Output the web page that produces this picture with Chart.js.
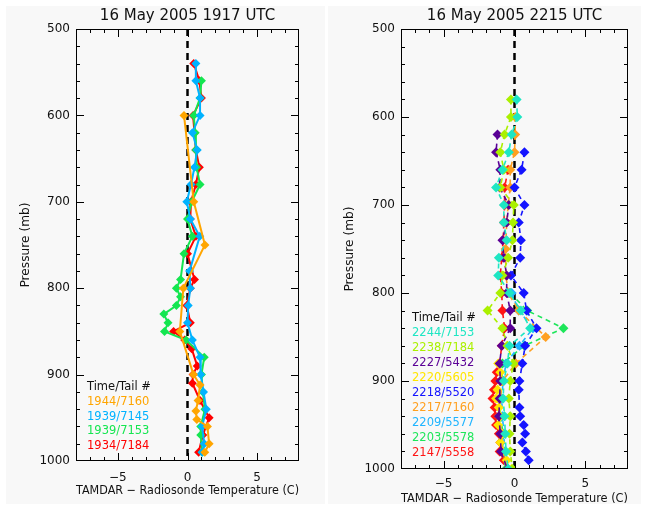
<!DOCTYPE html>
<html><head><meta charset="utf-8">
<script src="https://cdn.jsdelivr.net/npm/chart.js@4.4.0/dist/chart.umd.min.js"></script>
<style>
html,body{margin:0;padding:0;background:#fff;}
body{width:645px;height:508px;position:relative;overflow:hidden;}
.panel{position:absolute;background:#f8f8f8;}
#pl{left:6px;top:6px;width:319px;height:498px;}
#pr{left:328px;top:6px;width:313px;height:498px;}
#wl{position:absolute;left:0;top:0;width:325px;height:508px;}
#wr{position:absolute;left:325px;top:0;width:320px;height:508px;}
</style></head><body>
<div class="panel" id="pl"></div><div class="panel" id="pr"></div>
<div id="wl"><canvas id="cl" width="325" height="508"></canvas></div>
<div id="wr"><canvas id="cr" width="320" height="508"></canvas></div>
<script>
// ---------- axes ----------
const P_AXIS_MIN = 500, P_AXIS_MAX = 1000;
const T_AXIS_MIN = -8, T_AXIS_MAX = 8;
const X_TICKS = [-5, 0, 5];
const Y_TICKS = [500, 600, 700, 800, 900, 1000];
const X_MINOR_STEP = 1;
const Y_MINOR_STEP = 20;
const ZERO_P = [500, 1000];
const ZERO_T = [0, 0];

const LEFT_TITLE = '16 May 2005 1917 UTC';
const RIGHT_TITLE = '16 May 2005 2215 UTC';
const X_TITLE = 'TAMDAR \u2212 Radiosonde Temperature (C)';
const Y_TITLE = 'Pressure (mb)';
const LEGEND_HEADER = 'Time/Tail #';

// ---------- left panel (1917 UTC) ----------
const LEFT_LABELS = ['1944/7160', '1939/7145', '1939/7153', '1934/7184'];
const L1944_7160_P = [600, 700, 750, 800, 850, 900, 912, 930, 942, 952, 960, 980, 990];
const L1944_7160_T = [-0.25, 0.45, 1.25, -0.3, -0.55, 0.43, 0.9, 0.76, 0.6, 0.67, 1.43, 1.55, 1.24];
const L1939_7145_P = [540, 560, 580, 600, 620, 640, 660, 680, 700, 720, 740, 780, 800, 820, 840, 860, 880, 900, 920, 940, 960, 980, 990];
const L1939_7145_T = [0.6, 0.6, 0.9, 0.9, 0.35, 0.7, 0.5, 0.25, -0.05, 0.2, 0.88, 0.15, 0.2, 0.05, 0.0, 0.35, 0.9, 0.95, 1.15, 1.35, 1.05, 1.2, 1.05];
const L1939_7153_P = [560, 580, 600, 620, 640, 660, 680, 700, 720, 740, 760, 790, 800, 810, 820, 830, 840, 850, 860, 880, 900, 920, 940, 960, 970, 990];
const L1939_7153_T = [1.0, 0.9, 0.45, 0.55, 0.6, 0.65, 0.9, 0.3, 0.0, 0.35, -0.25, -0.5, -0.8, -0.5, -0.8, -1.7, -1.4, -1.65, -0.1, 1.2, 1.0, 1.1, 1.25, 0.95, 0.95, 1.05];
const L1934_7184_P = [540, 560, 580, 600, 620, 640, 660, 680, 700, 720, 740, 760, 790, 800, 820, 840, 850, 860, 870, 890, 900, 910, 930, 950, 970, 990];
const L1934_7184_T = [0.45, 0.85, 1.0, 0.4, 0.5, 0.6, 0.85, 0.6, 0.25, 0.2, 0.6, 0.0, 0.5, 0.2, -0.05, 0.2, -1.0, -0.2, 0.3, 0.7, 0.4, 0.35, 0.9, 1.55, 1.1, 0.8];
const LEFT_P = [L1944_7160_P, L1939_7145_P, L1939_7153_P, L1934_7184_P];
const LEFT_T = [L1944_7160_T, L1939_7145_T, L1939_7153_T, L1934_7184_T];
const LEFT_COLORS = ['#ffa500', '#00b2ff', '#14e650', '#ff0000'];

// ---------- right panel (2215 UTC) ----------
const RIGHT_LABELS = ['2244/7153', '2238/7184', '2227/5432', '2220/5605', '2218/5520', '2217/7160', '2209/5577', '2203/5578', '2147/5558'];
const R2244_7153_P = [580, 600, 620, 640, 660, 680, 700, 720, 740, 760, 780, 800, 820, 840, 860, 880, 900, 920, 940, 960, 980, 1000];
const R2244_7153_T = [0.15, 0.2, -0.2, -0.4, -0.85, -1.3, -0.75, -0.75, -0.55, -1.1, -1.15, -0.35, 0.45, 1.1, -0.35, -0.5, -0.75, -0.8, -0.7, -0.65, -0.6, -0.45];
const R2238_7184_P = [580, 600, 620, 640, 660, 680, 700, 720, 740, 760, 780, 800, 820, 840, 860, 880, 900, 920, 940, 960, 980, 1000];
const R2238_7184_T = [-0.25, -0.25, -0.7, -1.0, -0.75, -1.0, -0.05, -0.1, -0.15, -0.45, -0.85, -1.0, -1.9, -0.85, -0.5, -0.08, -0.3, -0.4, -0.3, -0.35, -0.3, -0.15];
const R2227_5432_P = [620, 640, 660, 680, 700, 720, 740, 760, 780, 800, 820, 840, 860, 880, 900, 920, 940, 960, 980, 1000];
const R2227_5432_T = [-1.2, -1.3, -1.0, -1.05, -0.4, -0.55, -0.85, -0.75, -0.55, -0.55, -0.3, -0.3, -0.9, -1.05, -1.0, -1.05, -1.1, -1.0, -0.95, -0.5];
const R2220_5605_P = [880, 890, 900, 910, 920, 930, 940, 950, 960, 970, 980, 990, 1000];
const R2220_5605_T = [-1.15, -1.0, -0.95, -1.2, -1.3, -1.1, -1.0, -1.15, -0.85, -1.0, -0.8, -0.55, -0.2];
const R2218_5520_P = [640, 660, 680, 700, 720, 740, 760, 780, 800, 820, 840, 860, 880, 900, 910, 930, 940, 950, 960, 970, 980, 990];
const R2218_5520_T = [0.7, 0.5, 0.0, 0.7, 0.3, 0.45, 0.4, -0.25, 0.65, 0.85, 1.55, 0.75, 0.55, 0.35, 0.3, 0.35, 0.4, 0.65, 0.75, 0.55, 0.8, 1.0];
const R2217_7160_P = [600, 620, 640, 660, 680, 700, 720, 750, 780, 800, 820, 850, 880, 900, 920, 940, 960, 980, 1000];
const R2217_7160_T = [0.05, 0.05, 0.0, -0.3, -0.3, -0.45, -0.55, -0.63, -0.6, -0.45, 0.3, 2.2, 0.1, -0.85, -1.0, -1.1, -0.9, -0.85, -0.5];
const R2209_5577_P = [800, 820, 840, 860, 880, 900, 920, 940, 960, 980, 1000];
const R2209_5577_T = [-0.2, 0.3, 1.3, 0.35, -0.6, -0.8, -0.9, -0.85, -0.75, -0.7, -0.45];
const R2203_5578_P = [800, 820, 840, 860, 880, 900, 920, 940, 960, 980, 1000];
const R2203_5578_T = [-0.3, 0.9, 3.45, 0.7, -0.85, -0.9, -1.0, -1.0, -0.8, -0.85, -0.6];
const R2147_5558_P = [660, 680, 700, 720, 740, 760, 780, 800, 820, 840, 860, 880, 890, 900, 910, 920, 930, 940, 950, 960, 970, 980, 990, 1000];
const R2147_5558_T = [-0.45, -0.7, -0.7, -0.75, -0.8, -0.9, -1.0, -0.9, -0.85, -0.7, -0.9, -1.05, -1.25, -1.35, -1.45, -1.55, -1.4, -1.35, -1.3, -1.1, -1.0, -1.05, -0.75, -0.5];
const RIGHT_P = [R2244_7153_P, R2238_7184_P, R2227_5432_P, R2220_5605_P, R2218_5520_P, R2217_7160_P, R2209_5577_P, R2203_5578_P, R2147_5558_P];
const RIGHT_T = [R2244_7153_T, R2238_7184_T, R2227_5432_T, R2220_5605_T, R2218_5520_T, R2217_7160_T, R2209_5577_T, R2203_5578_T, R2147_5558_T];
const RIGHT_COLORS = ['#1ee6c3', '#aaf000', '#5a0096', '#ffe600', '#1414ff', '#ffa020', '#1eb4ff', '#1ee65a', '#ff1414'];

// ---------- helpers ----------
const FONT = 'DejaVu Sans';
const TEXT = '#111';
Chart.defaults.font.family = FONT;
Chart.defaults.color = TEXT;

function pts(P, T) { return P.map((p, i) => ({ x: T[i], y: p })); }
function fmtT(v) { return v < 0 ? '\u2212' + Math.abs(v) : String(v); }
function fmtP(v) { return String(v); }

const framePlugin = {
  id: 'frame',
  afterDatasetsDraw(chart, args, opts) {
    const { ctx, chartArea: a, scales: { x, y } } = chart;
    ctx.save();
    ctx.strokeStyle = '#000';
    ctx.lineWidth = 1;
    ctx.setLineDash([]);
    ctx.strokeRect(a.left + 0.5, a.top + 0.5, a.right - a.left - 1, a.bottom - a.top - 1);
    ctx.beginPath();
    for (let v = T_AXIS_MIN + 1; v < T_AXIS_MAX; v += X_MINOR_STEP) {
      const px = Math.round(x.getPixelForValue(v)) + 0.5;
      const len = X_TICKS.includes(v) ? 8 : 4;
      ctx.moveTo(px, a.bottom); ctx.lineTo(px, a.bottom - len);
      ctx.moveTo(px, a.top); ctx.lineTo(px, a.top + len);
    }
    for (let v = P_AXIS_MIN + Y_MINOR_STEP; v < P_AXIS_MAX; v += Y_MINOR_STEP) {
      const py = Math.round(y.getPixelForValue(v)) + 0.5;
      const len = Y_TICKS.includes(v) ? 8 : 4;
      ctx.moveTo(a.left, py); ctx.lineTo(a.left + len, py);
      ctx.moveTo(a.right, py); ctx.lineTo(a.right - len, py);
    }
    ctx.stroke();
    // legend block
    ctx.font = opts.fontSize + 'px "' + FONT + '"';
    ctx.textBaseline = 'middle';
    ctx.textAlign = 'left';
    ctx.fillStyle = TEXT;
    ctx.fillText(LEGEND_HEADER, opts.x, opts.y0);
    opts.labels.forEach((t, i) => {
      ctx.fillStyle = opts.colors[i];
      ctx.fillText(t, opts.x, opts.y1 + i * opts.dy);
    });
    ctx.restore();
  }
};

function makeChart(id, cfg) {
  const datasets = cfg.P.map((P, i) => ({
    label: cfg.labels[i],
    data: pts(P, cfg.T[i]),
    showLine: true,
    borderColor: cfg.colors[i],
    backgroundColor: cfg.colors[i],
    borderWidth: cfg.lw,
    borderDash: cfg.dash,
    pointStyle: 'rectRot',
    pointRadius: cfg.r,
    pointBorderWidth: 0,
    tension: 0
  }));
  datasets.push({
    label: 'zero',
    data: pts(ZERO_P, ZERO_T),
    showLine: true,
    borderColor: '#000',
    borderWidth: 2.5,
    borderDash: [7, 5],
    pointRadius: 0
  });
  return new Chart(document.getElementById(id), {
    type: 'scatter',
    data: { datasets },
    plugins: [framePlugin],
    options: {
      responsive: false,
      animation: false,
      events: [],
      layout: { padding: { left: 0, right: cfg.padRight, top: 0, bottom: 0 } },
      plugins: {
        legend: { display: false },
        tooltip: { enabled: false },
        title: {
          display: true, text: cfg.title, fullSize: false, color: TEXT,
          font: { size: 15, weight: 'normal' }, padding: { top: 7, bottom: 4 }
        },
        frame: {
          x: cfg.legX, y0: cfg.legY0, y1: cfg.legY1, dy: cfg.legDy, fontSize: 11.5,
          labels: cfg.labels, colors: cfg.colors
        }
      },
      scales: {
        x: {
          type: 'linear', position: 'bottom', min: T_AXIS_MIN, max: T_AXIS_MAX,
          afterBuildTicks: s => { s.ticks = X_TICKS.map(v => ({ value: v })); },
          afterFit: s => { s.height = cfg.xHeight; },
          ticks: { callback: fmtT, font: { size: 12 }, padding: cfg.xTickPad, color: TEXT, maxRotation: 0 },
          grid: { display: false, drawTicks: false },
          border: { display: false },
          title: { display: true, text: X_TITLE, font: { size: 12.2 }, color: TEXT, padding: { top: 0, bottom: cfg.xTitlePad } }
        },
        y: {
          type: 'linear', position: 'left', reverse: true, min: P_AXIS_MIN, max: P_AXIS_MAX,
          afterBuildTicks: s => { s.ticks = Y_TICKS.map(v => ({ value: v })); },
          afterFit: s => { s.width = 76; },
          ticks: { callback: fmtP, font: { size: 12 }, padding: 6, color: TEXT },
          grid: { display: false, drawTicks: false },
          border: { display: false },
          title: { display: true, text: Y_TITLE, font: { size: 12.2 }, color: TEXT, padding: { top: cfg.yTitlePad, bottom: 0 } }
        }
      }
    }
  });
}

makeChart('cl', {
  title: LEFT_TITLE, labels: LEFT_LABELS, P: LEFT_P, T: LEFT_T, colors: LEFT_COLORS,
  dash: [], lw: 2, r: 4.5, padRight: 26, xHeight: 47, xTickPad: 10, xTitlePad: 9.5, yTitlePad: 19,
  legX: 87, legY0: 387, legY1: 402, legDy: 14.7
});
makeChart('cr', {
  title: RIGHT_TITLE, labels: RIGHT_LABELS, P: RIGHT_P, T: RIGHT_T, colors: RIGHT_COLORS,
  dash: [5, 4], lw: 1.6, r: 5, padRight: 17, xHeight: 39, xTickPad: 8, xTitlePad: 1.5, yTitlePad: 18,
  legX: 87, legY0: 318.5, legY1: 333, legDy: 15
});
</script>
</body></html>
